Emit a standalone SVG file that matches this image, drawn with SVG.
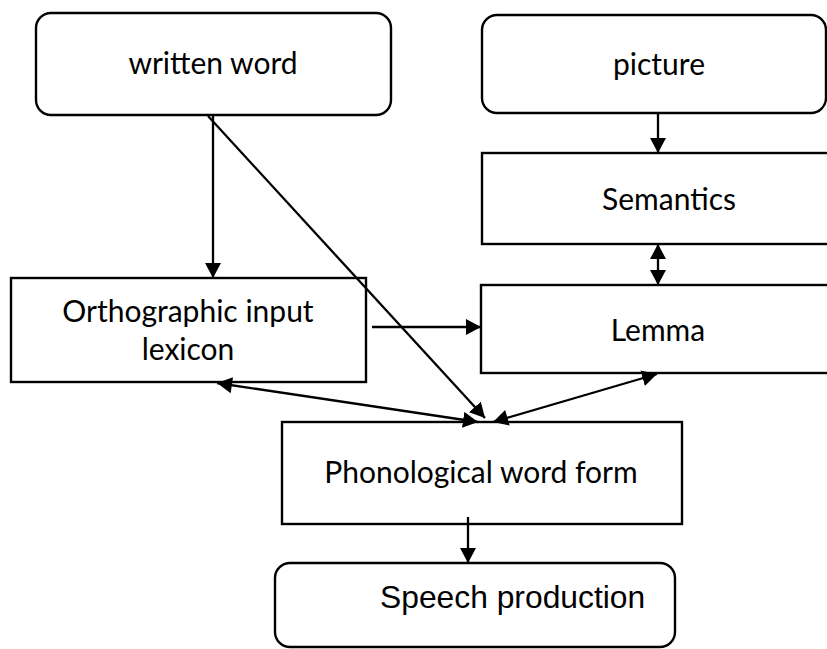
<svg xmlns="http://www.w3.org/2000/svg" width="827" height="649" viewBox="0 0 827 649">
<style>
.box{fill:#fff;stroke:#000;stroke-width:2.4}
.t{font-family:Lato,"Open Sans",sans-serif;font-size:30px;fill:#000;text-anchor:middle}
.ta{font-family:"Liberation Sans",Arial,sans-serif;font-size:31.8px;fill:#000}
.c{stroke:#000;stroke-width:2.3;fill:none}
</style>
<defs>
<marker id="ah" markerUnits="userSpaceOnUse" markerWidth="18" markerHeight="18" refX="15" refY="8" orient="auto">
<path d="M0,0 L15,8 L0,16 z" fill="#000"/>
</marker>
<marker id="as" markerUnits="userSpaceOnUse" markerWidth="18" markerHeight="18" refX="0" refY="8" orient="auto">
<path d="M15,0 L0,8 L15,16 z" fill="#000"/>
</marker>
</defs>
<g id="written"><rect class="box" x="36" y="13" width="355" height="102" rx="15"/><text class="t" x="213" y="74">written word</text></g>
<g id="picture"><rect class="box" x="482" y="15" width="344" height="98" rx="15"/><text class="t" x="659" y="75">picture</text></g>
<g id="semantics"><rect class="box" x="482" y="153" width="350" height="91"/><text class="t" x="669" y="210">Semantics</text></g>
<g id="lemma"><rect class="box" x="481" y="285" width="350" height="88"/><text class="t" x="658" y="341">Lemma</text></g>
<g id="orthographic"><rect class="box" x="11" y="278" width="355" height="104"/><text class="t" x="188" y="322">Orthographic input</text><text class="t" x="188" y="360">lexicon</text></g>
<g id="phonological"><rect class="box" x="282" y="422" width="400" height="102"/><text class="t" x="481" y="483">Phonological word form</text></g>
<g id="speech"><rect class="box" x="275" y="563" width="400" height="84" rx="15"/><text class="ta" x="380" y="608">Speech production</text></g>
<g id="connectors">
<line class="c" x1="213" y1="116" x2="213" y2="278" marker-end="url(#ah)"/>
<line class="c" x1="208" y1="116" x2="485" y2="418" marker-end="url(#ah)"/>
<line class="c" x1="658" y1="113" x2="658" y2="153" marker-end="url(#ah)"/>
<line class="c" x1="658" y1="244" x2="658" y2="285" marker-start="url(#as)" marker-end="url(#ah)"/>
<line class="c" x1="372" y1="327" x2="481" y2="327" marker-end="url(#ah)"/>
<line class="c" x1="217" y1="383" x2="478" y2="422" marker-start="url(#as)" marker-end="url(#ah)"/>
<line class="c" x1="493" y1="422" x2="657" y2="374" marker-start="url(#as)" marker-end="url(#ah)"/>
<line class="c" x1="468" y1="517" x2="468" y2="563" marker-end="url(#ah)"/>
</g>
</svg>
